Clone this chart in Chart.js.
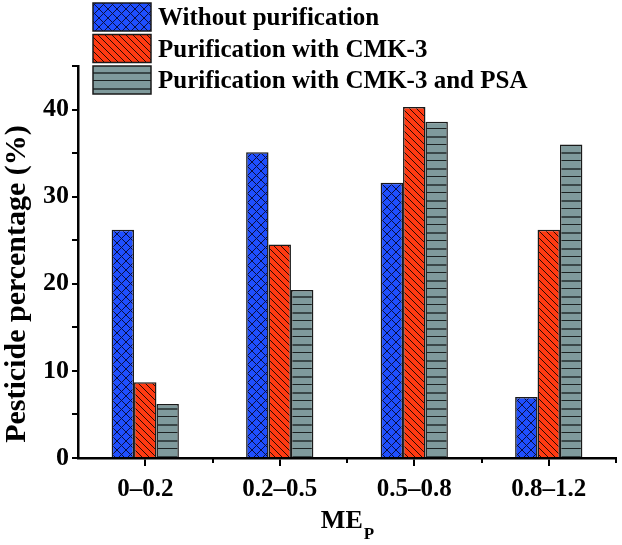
<!DOCTYPE html>
<html>
<head>
<meta charset="utf-8">
<script src="https://cdn.jsdelivr.net/npm/chart.js@4/dist/chart.umd.min.js"></script>
<style>
  html, body { margin: 0; padding: 0; background: #fff; }
  #wrap { width: 622px; height: 545px; }
</style>
</head>
<body>
<div id="wrap"><canvas id="c" width="622" height="545"></canvas></div>
<script>
// --- DANE ---
const categories = ['0\u20130.2', '0.2\u20130.5', '0.5\u20130.8', '0.8\u20131.2'];
const seriesNames = ['Without purification', 'Purification with CMK-3', 'Purification with CMK-3 and PSA'];
const withoutPurification = [26.2, 35.1, 31.6, 7.0];
const withCMK3 = [8.7, 24.5, 40.3, 26.2];
const withCMK3PSA = [6.2, 19.3, 38.6, 36.0];
const yTicks = [0, 10, 20, 30, 40];

const FONT = '"Liberation Serif", "Times New Roman", serif';

// --- WZORY (kreskowanie) ---
function makeTile(w, h, draw) {
    const c = document.createElement('canvas');
    c.width = w; c.height = h;
    const g = c.getContext('2d');
    draw(g, w, h);
    return document.getElementById('c').getContext('2d').createPattern(c, 'repeat');
}

const bluePattern = makeTile(9, 9, (g, w, h) => {
    g.fillStyle = '#1f4fff';
    g.fillRect(0, 0, w, h);
    g.strokeStyle = '#0a0f40';
    g.lineWidth = 1;
    g.beginPath();
    g.moveTo(0, 0); g.lineTo(w, h);
    g.moveTo(0, h); g.lineTo(w, 0);
    g.stroke();
});

const redPattern = makeTile(7, 7, (g, w, h) => {
    g.fillStyle = '#ff3a12';
    g.fillRect(0, 0, w, h);
    g.strokeStyle = '#2a0a00';
    g.lineWidth = 1;
    g.beginPath();
    for (let k = -1; k <= 1; k++) {
        g.moveTo(k * w, 0); g.lineTo(k * w + w, h);
    }
    g.stroke();
});

const grayPattern = makeTile(8, 16, (g, w, h) => {
    g.fillStyle = '#7f9a9c';
    g.fillRect(0, 0, w, h);
    g.fillStyle = '#1c2222';
    g.fillRect(0, 0, w, 1);
    g.fillStyle = '#3a4748';
    g.fillRect(0, 8, w, 2);
});

const patterns = [bluePattern, redPattern, grayPattern];

// --- PLUGIN: legenda, tytuły osi, małe znaczniki ---
const extras = {
    id: 'extras',
    afterDraw(chart) {
        const ctx = chart.ctx;
        const x = chart.scales.x;
        const y = chart.scales.y;
        ctx.save();

        // małe znaczniki na granicach kategorii
        ctx.strokeStyle = '#000';
        ctx.lineWidth = 2;
        const step = (x.right - x.left) / categories.length;
        ctx.beginPath();
        for (let i = 1; i <= categories.length; i++) {
            const px = Math.round(x.left + i * step);
            ctx.moveTo(px, y.bottom);
            ctx.lineTo(px, y.bottom + 5);
        }
        ctx.stroke();

        // legenda
        const boxX = 93, boxW = 58, boxH = 28;
        const boxY = [3, 34.5, 66];
        chart.data.datasets.forEach((ds, i) => {
            ctx.fillStyle = ds.backgroundColor;
            ctx.fillRect(boxX, boxY[i], boxW, boxH);
            ctx.strokeStyle = '#1a1a1a';
            ctx.lineWidth = 1.5;
            ctx.strokeRect(boxX, boxY[i], boxW, boxH);
            ctx.fillStyle = '#000';
            ctx.font = 'bold 25px ' + FONT;
            ctx.textAlign = 'left';
            ctx.textBaseline = 'alphabetic';
            ctx.fillText(ds.label, 158, boxY[i] + boxH / 2 + 8);
        });

        // tytuł osi Y
        ctx.save();
        ctx.translate(25, 284);
        ctx.rotate(-Math.PI / 2);
        ctx.font = 'bold 30px ' + FONT;
        ctx.textAlign = 'center';
        ctx.textBaseline = 'alphabetic';
        ctx.fillText('Pesticide percentage (%)', 0, 0);
        ctx.restore();

        // tytuł osi X: ME z indeksem P
        ctx.font = 'bold 26px ' + FONT;
        const wME = ctx.measureText('ME').width;
        ctx.font = 'bold 17px ' + FONT;
        const wP = ctx.measureText('P').width;
        const startX = (x.left + x.right) / 2 - (wME + wP) / 2;
        ctx.font = 'bold 26px ' + FONT;
        ctx.textAlign = 'left';
        ctx.fillText('ME', startX, 528);
        ctx.font = 'bold 17px ' + FONT;
        ctx.fillText('P', startX + wME + 1, 539);

        ctx.restore();
    }
};

// --- WYKRES ---
const chart = new Chart(document.getElementById('c'), {
    type: 'bar',
    data: {
        labels: categories,
        datasets: [withoutPurification, withCMK3, withCMK3PSA].map((vals, i) => ({
            label: seriesNames[i],
            data: vals,
            backgroundColor: patterns[i],
            borderColor: '#1a1a1a',
            borderWidth: 1.5,
            borderSkipped: 'bottom',
            categoryPercentage: 0.5,
            barPercentage: 1.0
        }))
    },
    options: {
        responsive: false,
        animation: false,
        layout: { padding: { top: 66, right: 6, left: 0, bottom: 0 } },
        plugins: {
            legend: { display: false },
            tooltip: { enabled: false }
        },
        scales: {
            x: {
                offset: true,
                grid: {
                    offset: false,
                    drawOnChartArea: false,
                    drawTicks: true,
                    tickLength: 8,
                    color: '#000',
                    lineWidth: 2
                },
                border: { color: '#000', width: 2.5 },
                ticks: {
                    color: '#000',
                    font: { family: FONT, size: 25, weight: 'bold' },
                    padding: 9,
                    maxRotation: 0
                },
                afterFit(scale) { scale.height = 87; }
            },
            y: {
                min: 0,
                max: 45,
                grid: {
                    drawOnChartArea: false,
                    drawTicks: true,
                    tickLength: 6,
                    color: '#000',
                    lineWidth: 2
                },
                border: { color: '#000', width: 2.5 },
                ticks: {
                    stepSize: 5,
                    color: '#000',
                    font: { family: FONT, size: 26, weight: 'bold' },
                    padding: 3,
                    callback: v => (yTicks.includes(v) ? String(v) : '')
                },
                afterFit(scale) { scale.width = 78; }
            }
        }
    },
    plugins: [extras]
});
</script>
</body>
</html>
